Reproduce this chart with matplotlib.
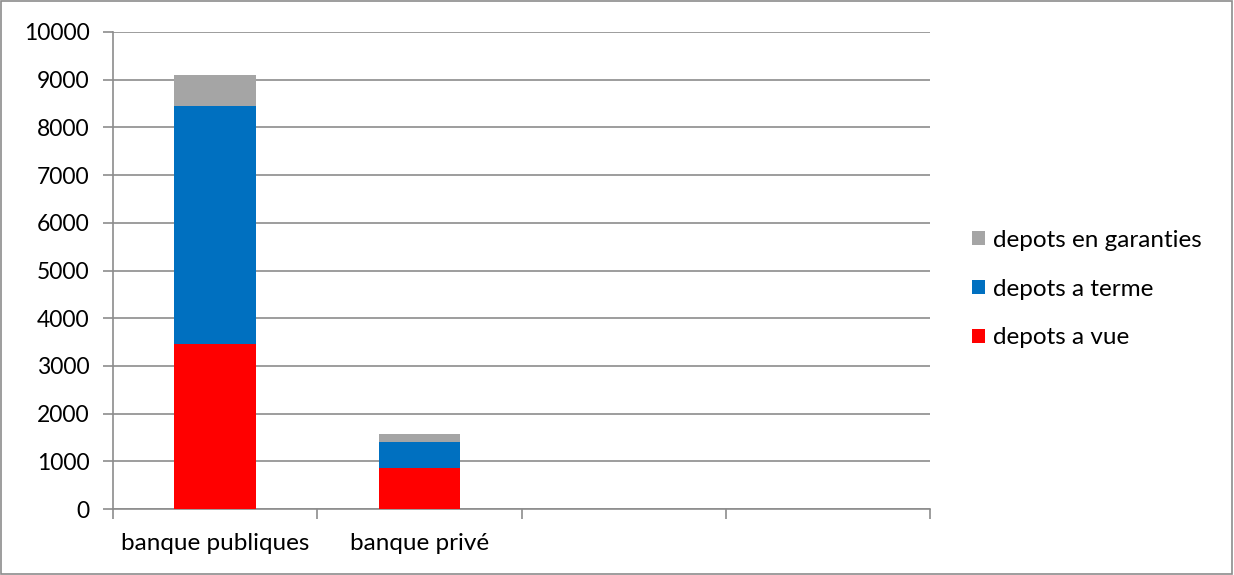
import matplotlib.pyplot as plt
from matplotlib.patches import Rectangle
import numpy as np

# stacked deposits per bank type
categories = ["banque publiques", "banque privé", "", ""]
depots_vue = [3465, 865, 0, 0]
depots_terme = [4990, 540, 0, 0]
depots_garanties = [635, 165, 0, 0]

plt.rcParams['font.family'] = ['Lato', 'DejaVu Sans']

fig = plt.figure(figsize=(12.34, 5.75), dpi=100)
ax = fig.add_axes([113 / 1234, 1 - 509 / 575, (930 - 113) / 1234, (509 - 32) / 575])

x = np.arange(len(categories))
w = 0.4
vue = np.array(depots_vue)
terme = np.array(depots_terme)
gar = np.array(depots_garanties)

b1 = ax.bar(x, vue, w, color="#FF0000", label="depots a vue", zorder=3)
b2 = ax.bar(x, terme, w, bottom=vue, color="#0070C0", label="depots a terme", zorder=3)
b3 = ax.bar(x, gar, w, bottom=vue + terme, color="#A5A5A5", label="depots en garanties", zorder=3)

ax.set_xlim(-0.5, len(categories) - 0.5)
ax.set_ylim(0, 10000)
ax.set_yticks(np.arange(0, 10001, 1000))
ax.yaxis.grid(True, color="#8C8C8C", linewidth=1.2, zorder=0)

# category boundaries get the tick marks, labels sit in the middle
ax.set_xticks(np.arange(-0.5, len(categories), 1.0))
ax.set_xticklabels([])
ax.set_xticks(x, minor=True)
ax.set_xticklabels(categories, minor=True, fontsize=17.5)
ax.tick_params(axis="x", which="major", length=7, width=1.2, color="#8C8C8C", direction="out")
ax.tick_params(axis="x", which="minor", length=0, pad=17)
ax.tick_params(axis="y", length=7, width=1.2, color="#8C8C8C", labelsize=16.5, pad=10)

for s in ["top", "right"]:
    ax.spines[s].set_visible(False)
for s in ["left", "bottom"]:
    ax.spines[s].set_color("#8C8C8C")
    ax.spines[s].set_linewidth(1.2)

handles = [b3, b2, b1]
leg = fig.legend(handles, [h.get_label() for h in handles], loc="center left",
                 bbox_to_anchor=(950 / 1234, 1 - 289 / 575), frameon=False,
                 fontsize=17.5, handlelength=0.55, handleheight=0.55,
                 handletextpad=0.3, labelspacing=1.15)

# outer chart border
fig.add_artist(Rectangle((0.001, 0.002), 0.997, 0.996, transform=fig.transFigure,
                         fill=False, edgecolor="#8C8C8C", linewidth=1.2))

fig.savefig("out.png", dpi=100)
